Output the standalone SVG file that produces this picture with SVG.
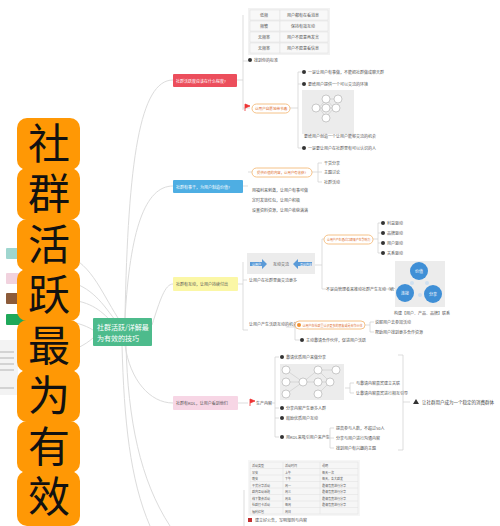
<svg xmlns="http://www.w3.org/2000/svg" width="500" height="526" viewBox="0 0 500 526">
<style>
text{font-family:"Noto Sans CJK SC","Noto Sans",sans-serif}
.t{font-size:4px;fill:#555}
.tw{font-size:4px;fill:#fff}
.c{fill:none;stroke:#dcdcdc;stroke-width:1}
.b{fill:none;stroke:#cfcfcf;stroke-width:0.7}
.big{font-size:42px;fill:#111;writing-mode:vertical-rl;letter-spacing:8.5px}
.ob{fill:#FF9805}
.on{fill:#fff;stroke:#F2B36B;stroke-width:0.8}
.num{fill:#333}
.img{fill:#ececec}
.cir{fill:#fff;stroke:#999;stroke-width:0.5}
.bc{fill:#3F8FD6}
</style>
<rect width="500" height="526" fill="#fff"/>
<g id="connectors">
<path class="c" d="M125,318 C128,160 140,80 173,80"/>
<path class="c" d="M125,318 C130,230 145,186 173,186"/>
<path class="c" d="M152,325 C160,300 165,284 173,284"/>
<path class="c" d="M125,345 C130,380 150,403 173,403"/>
<path class="c" d="M118,318 C100,290 90,260 60,253"/>
<path class="c" d="M115,320 C100,300 90,285 60,279"/>
<path class="c" d="M112,322 C100,310 90,300 60,299"/>
<path class="c" d="M93,330 C85,325 75,322 60,320"/>
<path class="c" d="M93,338 C85,345 75,350 60,355"/>
<path class="c" d="M122,345 C124,420 130,480 150,526"/>
<path class="c" d="M126,345 C128,420 140,480 170,526"/>
<path class="b" d="M237,80 H243 M243,15 V110 M243,61 H248 M243,108 H250"/>
<path class="b" d="M290,108 H298 M298,72 V148 M298,72 H302 M298,84 H302 M298,148 H302"/>
<path class="b" d="M243,186 H248 M248,172 H252 M312,172 H318 M318,163 V182 M318,163 H322 M318,172 H322 M318,182 H322"/>
<path class="b" d="M238,284 H243 M243,262 V330 M247,280 H243 M315,265 H322 M322,239 V289 M322,239 H325 M322,289 H326"/>
<path class="b" d="M372,239 H378 M378,223 V253 M378,223 H381 M378,233 H381 M378,243 H381 M378,253 H381"/>
<path class="b" d="M382,289 H394"/>
<path class="b" d="M243,330 H248 M286,327 H295 M295,325 V340 M295,340 H300 M365,325 H370 M370,322 V332 M370,322 H374 M370,332 H374"/>
<path class="b" d="M238,403 H248 M265,403 H275 M275,357 V437 M275,357 H279 M275,408 H279 M275,418 H279 M275,437 H279"/>
<path class="b" d="M345,388 H350 M350,383 V393 M350,383 H354 M350,393 H354"/>
<path class="b" d="M322,437 H330 M330,428 V448 M330,428 H334 M330,438 H334 M330,448 H334"/>
<path class="b" d="M398,355 H403 V450 H398 M403,402 H410"/>
<path class="b" d="M244,490 V526"/>
</g>
<g id="left-nodes">
<rect x="6" y="248" width="20" height="11" rx="1" fill="#9FD6CF"/>
<rect x="6" y="273" width="20" height="11" rx="1" fill="#F1D2DE"/>
<rect x="6" y="293" width="20" height="11" rx="1" fill="#8C5B3A"/>
<rect x="6" y="314" width="20" height="11" rx="1" fill="#1FA85A"/>
<rect x="0" y="340" width="18" height="55" fill="#f3f3f3"/>
<path d="M0,352 H14 M0,358 H14 M0,364 H14 M0,370 H14 M0,388 H14" stroke="#999" stroke-width="0.7"/>
</g>
<g id="orange-title">
<rect class="ob" x="17" y="118" width="63" height="52" rx="10"/>
<rect class="ob" x="17" y="168" width="63" height="52" rx="10"/>
<rect class="ob" x="17" y="219" width="63" height="52" rx="10"/>
<rect class="ob" x="17" y="269" width="63" height="52" rx="10"/>
<rect class="ob" x="17" y="320" width="63" height="52" rx="10"/>
<rect class="ob" x="17" y="370" width="63" height="52" rx="10"/>
<rect class="ob" x="17" y="421" width="63" height="52" rx="10"/>
<rect class="ob" x="17" y="471" width="63" height="55" rx="10"/>
<text class="big" x="49" y="122">社群活跃最为有效</text>
</g>
<g id="center">
<rect x="93" y="318" width="59" height="28" rx="1" fill="#4DBB8C"/>
<text x="97" y="330" font-size="7" fill="#fff">社群活跃/详解最</text>
<text x="97" y="341" font-size="7" fill="#fff">为有效的技巧</text>
</g>
<g id="branch1">
<rect x="173" y="74" width="64" height="13" rx="1" fill="#EC4E5C"/>
<text class="tw" x="176" y="82.5">社群活跃度应该在什么程度?</text>
<rect x="248" y="8" width="82" height="47" fill="#f2f2f2"/>
<g fill="#f8f8f8" stroke="#dcdcdc" stroke-width="0.4">
<rect x="250" y="10" width="30" height="10"/><rect x="280" y="10" width="48" height="10"/>
<rect x="250" y="21" width="30" height="10"/><rect x="280" y="21" width="48" height="10"/>
<rect x="250" y="32" width="30" height="10"/><rect x="280" y="32" width="48" height="10"/>
<rect x="250" y="43" width="30" height="10"/><rect x="280" y="43" width="48" height="10"/>
</g>
<text class="t" x="260" y="16.5">低频</text><text class="t" x="287" y="16.5">用户都有在看消息</text>
<text class="t" x="260" y="27.5">频繁</text><text class="t" x="291" y="27.5">保持有效互动</text>
<text class="t" x="258" y="38.5">无频率</text><text class="t" x="287" y="38.5">用户不愿意再发言</text>
<text class="t" x="258" y="49.5">无频率</text><text class="t" x="287" y="49.5">用户不愿意看信息</text>
<circle class="num" cx="250" cy="60" r="2"/><text class="t" x="254" y="62">找到你的标准</text>
<path d="M245,104 V111 M245,104 L250,106 L245,108" stroke="#E33" stroke-width="0.8" fill="#E33"/>
<rect class="on" x="252" y="104" width="38" height="9" rx="4.5"/>
<text x="255" y="110" font-size="3.6" fill="#E07030">让用户自愿地带节奏</text>
<circle class="num" cx="304" cy="72" r="2"/><text class="t" x="308" y="73.5">一是让用户有事做，不能把社群做成聊天群</text>
<circle class="num" cx="304" cy="84" r="2"/><text class="t" x="308" y="85.5">要给用户提供一个可以交流的环境</text>
<rect class="img" x="302" y="90" width="52" height="44"/>
<g class="b"><path d="M326,99 L319,108 M326,99 L334,108 M319,108 L326,117 M334,108 L326,117 M326,99 H338 M319,108 H334"/></g>
<circle class="cir" cx="326" cy="99" r="4"/><circle class="cir" cx="338" cy="99" r="4"/>
<circle class="cir" cx="316" cy="108" r="4"/><circle class="cir" cx="326" cy="108" r="4"/><circle class="cir" cx="336" cy="108" r="4"/>
<circle class="cir" cx="326" cy="118" r="4"/>
<text class="t" x="304" y="138" font-size="3.2">要给用户创造一个让用户能够交流的机会</text>
<circle class="num" cx="304" cy="148" r="2"/><text class="t" x="308" y="149.5">一是要让用户在社群里有可以认识的人</text>
</g>
<g id="branch2">
<rect x="173" y="180" width="70" height="13" rx="1" fill="#4EAEE3"/>
<text class="tw" x="176" y="188.5">社群有事干，为用户制造价值?</text>
<rect class="on" x="252" y="168" width="60" height="9" rx="4.5"/>
<text x="257" y="174" font-size="3.4" fill="#E07030">提供价值的内容，让用户有收获?</text>
<text class="t" x="324" y="164.5">干货分享</text>
<text class="t" x="324" y="173.5">主题讨论</text>
<text class="t" x="324" y="183.5">社群活动</text>
<text class="t" x="252" y="191.5">用福利来刺激，让用户有事可做</text>
<text class="t" x="252" y="201.5">定时发放红包，让用户积极</text>
<text class="t" x="252" y="211.5">设置资料资源，让用户收获满满</text>
</g>
<g id="branch3">
<rect x="173" y="277" width="65" height="14" rx="1" fill="#FBF7A6"/>
<text x="176" y="286" font-size="4" fill="#555">社群有互动，让用户持续付出</text>
<rect class="img" x="247" y="253" width="68" height="21"/>
<path d="M250,262 H262 V259 L267,264 L262,269 V266 H250 Z" fill="#5B9BD8"/>
<path d="M312,262 H298 V259 L293,264 L298,269 V266 H312 Z" fill="#5B9BD8"/>
<text x="252" y="265.5" font-size="3" fill="#fff">让用户</text>
<text x="300" y="265.5" font-size="3" fill="#fff">互动内容</text>
<text class="t" x="273" y="265.5" font-size="3.5">互动交流</text>
<text class="t" x="249" y="281.5">让用户在社群里面交流更多</text>
<rect class="on" x="324" y="235" width="49" height="9" rx="4.5"/>
<text x="327" y="241" font-size="2.9" fill="#E07030">让用户产生通过口碑来产生影响力</text>
<circle class="num" cx="383" cy="223" r="2"/><text class="t" x="387" y="224.5">利益驱动</text>
<circle class="num" cx="383" cy="233" r="2"/><text class="t" x="387" y="234.5">品牌驱动</text>
<circle class="num" cx="383" cy="243" r="2"/><text class="t" x="387" y="244.5">用户驱动</text>
<circle class="num" cx="383" cy="253" r="2"/><text class="t" x="387" y="254.5">关系驱动</text>
<text class="t" x="326" y="290.5" font-size="3.3">不是由管理者来推动社群产生互动（统一）</text>
<rect class="img" x="395" y="261" width="50" height="46"/>
<circle cx="412" cy="283" r="2" fill="#cfe0f0"/><circle cx="427" cy="283" r="2" fill="#cfe0f0"/><circle cx="420" cy="295" r="2" fill="#cfe0f0"/>
<circle class="bc" cx="419" cy="271" r="9"/>
<circle class="bc" cx="405" cy="293" r="9"/>
<circle class="bc" cx="433" cy="294" r="9"/>
<text x="415" y="272.5" font-size="4" fill="#fff">价值</text>
<text x="401" y="294.5" font-size="4" fill="#fff">连接</text>
<text x="429" y="295.5" font-size="4" fill="#fff">分享</text>
<text class="t" x="394" y="315" font-size="3.5">构建【用户、产品、品牌】联系</text>
<text class="t" x="249" y="325.5" font-size="3.3">让用户产生活跃互动的机会</text>
<rect class="on" x="295" y="321" width="70" height="8" rx="4"/>
<circle cx="299" cy="325" r="2" fill="#F09030"/>
<text x="302.5" y="326.5" font-size="3" fill="#E07030">让用户在社群里认识更多的朋友或是合作伙伴</text>
<text class="t" x="375" y="323.5" font-size="3.5">说服用户去参加活动</text>
<text class="t" x="375" y="333.5" font-size="3.5">帮助用户找到更多合作资源</text>
<circle class="num" cx="302" cy="340" r="2"/><text class="t" x="306" y="341.5" font-size="3.5">主动邀请合作伙伴，促进用户活跃</text>
</g>
<g id="branch4">
<rect x="173" y="396" width="65" height="14" rx="1" fill="#F7D6E5"/>
<text x="176" y="405" font-size="4" fill="#555">社群有KOL，让用户看到他们</text>
<path d="M250,399 V406 M250,399 L255,401 L250,403" stroke="#E33" stroke-width="0.8" fill="#E33"/>
<text class="t" x="256" y="405" font-size="3.5">生产内容</text>
<circle class="num" cx="282" cy="357" r="2"/><text class="t" x="286" y="358.5">邀请优质用户来做分享</text>
<rect class="img" x="280" y="364" width="64" height="36"/>
<g class="b"><path d="M286,370 L303,382 M286,382 H303 M286,394 L303,382 M303,382 L318,370 M303,382 H330 M318,370 L330,382 M330,382 L318,394 M318,370 H336"/></g>
<circle class="cir" cx="286" cy="370" r="4"/><circle class="cir" cx="286" cy="382" r="4"/><circle class="cir" cx="286" cy="394" r="4"/>
<circle class="cir" cx="303" cy="382" r="4"/><circle class="cir" cx="318" cy="370" r="4"/><circle class="cir" cx="318" cy="382" r="4"/>
<circle class="cir" cx="330" cy="382" r="4"/><circle class="cir" cx="318" cy="394" r="4"/><circle class="cir" cx="336" cy="370" r="4"/>
<text class="t" x="356" y="384.5" font-size="3.5">与邀请内容嘉宾建立关联</text>
<text class="t" x="356" y="394.5" font-size="3.5">让邀请内容嘉宾进行相互引导</text>
<circle class="num" cx="282" cy="408" r="2"/><text class="t" x="286" y="409.5">分享内容产生更多人群</text>
<circle class="num" cx="282" cy="418" r="2"/><text class="t" x="286" y="419.5">鼓励优质用户互动</text>
<circle class="num" cx="282" cy="437" r="2"/><text class="t" x="286" y="438.5" font-size="3.5">用KOL来吸引用户来产生</text>
<text class="t" x="336" y="429.5" font-size="3.5">提高参与人数，不超过50人</text>
<text class="t" x="336" y="439.5" font-size="3.5">分享与用户进行沟通内容</text>
<text class="t" x="336" y="449.5" font-size="3.5">找到用户有兴趣的主题</text>
<path d="M413,404 L416,399 L419,404 Z" fill="#333"/>
<text x="422" y="404" font-size="4.5" fill="#444">让社群用户成为一个稳定的消费群体</text>
</g>
<g id="bottom">
<rect x="248" y="460" width="112" height="56" fill="#f6f6f6"/>
<g stroke="#dcdcdc" stroke-width="0.4" fill="none">
<rect x="250" y="462" width="108" height="52"/>
<path d="M283,462 V514 M320,462 V514 M250,468.5 H358 M250,475 H358 M250,481.5 H358 M250,488 H358 M250,494.5 H358 M250,501 H358 M250,507.5 H358"/>
</g>
<g font-size="3" fill="#555">
<text x="252" y="467">活动类型</text><text x="285" y="467">活动时间</text><text x="322" y="467">说明</text>
<text x="252" y="473.5">早安</text><text x="285" y="473.5">上午</text><text x="322" y="473.5">每天一次</text>
<text x="252" y="480">晚安</text><text x="285" y="480">下午</text><text x="322" y="480">每天，各大群发</text>
<text x="252" y="486.5">干货分享活动</text><text x="285" y="486.5">周一</text><text x="322" y="486.5">邀请嘉宾进行分享</text>
<text x="252" y="493">群内互动话题</text><text x="285" y="493">周三</text><text x="322" y="493">邀请嘉宾进行分享</text>
<text x="252" y="499.5">线下聚会活动</text><text x="285" y="499.5">周五</text><text x="322" y="499.5">邀请嘉宾进行分享</text>
<text x="252" y="506">社群打卡活动</text><text x="285" y="506">每周</text><text x="322" y="506">邀请嘉宾进行分享</text>
<text x="252" y="512.5">福利红包</text><text x="285" y="512.5">周日</text>
</g>
<rect x="248" y="518" width="4" height="4" fill="#C03030"/>
<text class="t" x="255" y="522">建立好公告，写明规则与内容</text>
</g>
</svg>
